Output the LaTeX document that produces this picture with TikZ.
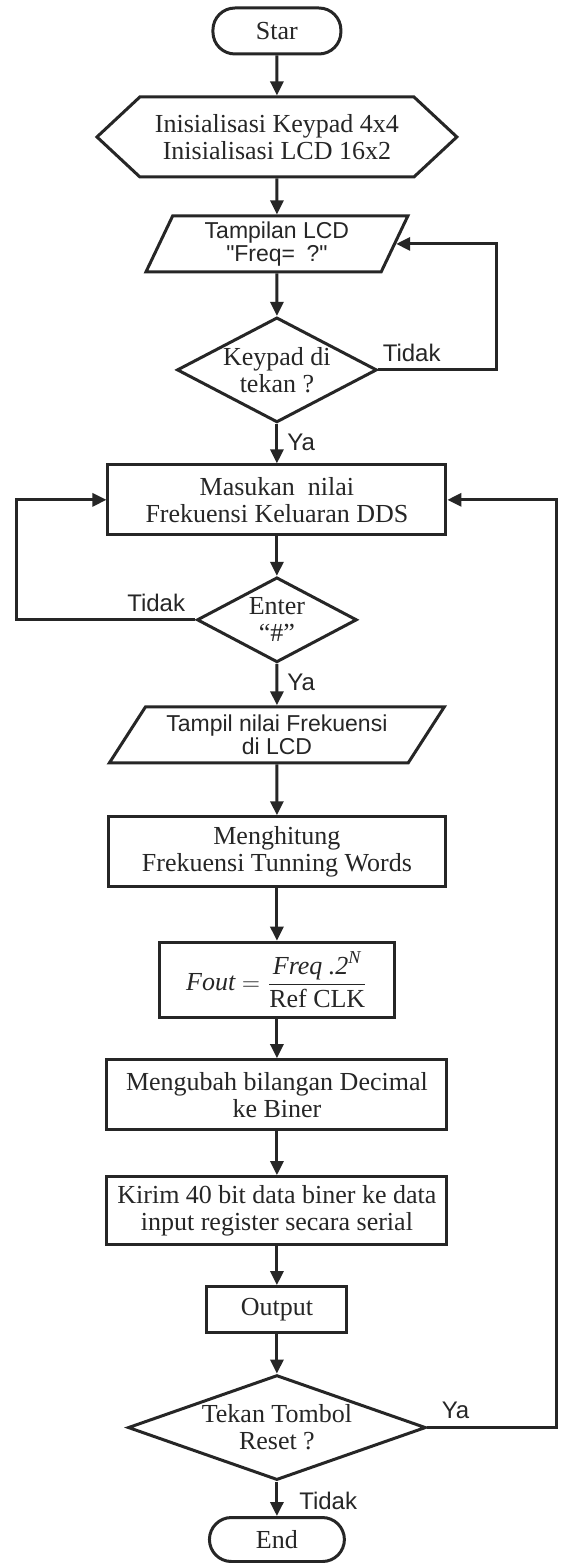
\documentclass[tikz,border=0pt]{standalone}
\usepackage{amsmath}
\usepackage{fontspec}
\setmainfont{Liberation Serif}
\newfontfamily\arialfont{Liberation Sans}
\usetikzlibrary{arrows.meta, positioning, shapes.geometric, shapes.symbols}
\definecolor{ink}{HTML}{262626}

\begin{document}
\begin{tikzpicture}[
  x=0.5pt, y=-0.5pt,
  >={Triangle[length=7pt, width=6.5pt]},
  procbox/.style={
    draw=ink, line width=1.5pt, rectangle, minimum width=#1, minimum height=35pt,
    font=\fontsize{13}{13.5}\selectfont, text=ink, align=center, inner sep=2pt
  },
  procbox/.default=169pt,
  termbox/.style={
    draw=ink, line width=1.5pt, rounded corners=11pt,
    minimum width=#1, minimum height=23pt,
    font=\fontsize{13}{13.5}\selectfont, text=ink, inner sep=2pt
  },
  prepbox/.style={
    draw=ink, line width=1.5pt, signal, signal to=west and east,
    signal pointer angle=86, minimum width=180pt, minimum height=40pt,
    font=\fontsize{13}{13.5}\selectfont, text=ink, align=center, inner sep=2pt
  },
  iobox/.style={
    draw=ink, line width=1.5pt, trapezium, trapezium stretches body,
    minimum height=28pt, font=\arialfont\fontsize{11.5}{11.5}\selectfont,
    text=ink, align=center, inner sep=2pt
  },
  decbox/.style={
    draw=ink, line width=1.5pt, diamond, aspect=#1, inner sep=0pt,
    font=\fontsize{13}{13.5}\selectfont, text=ink, align=center
  },
  arr/.style={->, line width=1.5pt, ink},
  lbl/.style={font=\arialfont\fontsize{12}{12}\selectfont, text=ink, inner sep=1pt},
]

% Background / page size
\fill[white] (0,0) rectangle (561,1563);

% =============================================
% TOP: start, init, LCD prompt, keypad check
% =============================================
\node[termbox=64pt] (start) at (277,31) {Star};

\node[prepbox] (init) at (277,137)
  {Inisialisasi Keypad 4x4\\Inisialisasi LCD 16x2};

\node[iobox, trapezium left angle=63, trapezium right angle=117,
      minimum width=131pt] (lcd) at (277,244)
  {Tampilan LCD\\"Freq=\enspace?"};

\node[decbox=1.9, minimum width=100pt, minimum height=52.5pt]
  (keypad) at (277,370) {Keypad di\\tekan ?};
\node[lbl, above right=3pt and 1pt of keypad.east] {Tidak};
\node[lbl, below right=4pt and 4pt of keypad.south] {Ya};

\draw[arr] (start) -- (init);
\draw[arr] (init) -- (lcd);
\draw[arr] (lcd) -- (keypad);

% Tidak -> back to LCD prompt
\coordinate (rgtA) at (497,0);
\draw[arr] (keypad.east) -- (keypad.east -| rgtA) |- (lcd.right side);

% =============================================
% MIDDLE: frequency input loop
% =============================================
\node[procbox] (input) at (277,500)
  {Masukan\ \ nilai\\Frekuensi Keluaran DDS};

\node[decbox=1.88, minimum width=80pt, minimum height=42.5pt]
  (enter) at (277,620) {Enter\\``\#''};
\node[lbl, above left=3pt and 4pt of enter.west] {Tidak};
\node[lbl, below right=4pt and 4pt of enter.south] {Ya};

\draw[arr] (keypad) -- (input);
\draw[arr] (input) -- (enter);

% Tidak -> back to input
\coordinate (lftA) at (17,0);
\draw[arr] (enter.west) -- (enter.west -| lftA) |- (input.west);

% =============================================
% LOWER: computation and output
% =============================================
\node[iobox, trapezium left angle=53, trapezium right angle=127,
      minimum width=167.5pt] (show) at (277,735)
  {Tampil nilai Frekuensi\\di LCD};

\node[procbox=168.5pt] (calc) at (277,852)
  {Menghitung\\Frekuensi Tunning Words};

\node[procbox=117.5pt, minimum height=37.5pt] (fout) at (277,980)
  {$\textit{Fout} = \dfrac{\textit{Freq .2}^{\textit{N}}}{\text{Ref CLK}}$};

\node[procbox=170pt] (conv) at (277,1095)
  {Mengubah bilangan Decimal\\ke Biner};

\node[procbox=170pt, minimum height=34pt] (send) at (277,1211)
  {Kirim 40 bit data biner ke data\\input register secara serial};

\node[procbox=70pt, minimum height=23pt] (out) at (277,1310) {Output};

\draw[arr] (enter) -- (show);
\draw[arr] (show) -- (calc);
\draw[arr] (calc) -- (fout);
\draw[arr] (fout) -- (conv);
\draw[arr] (conv) -- (send);
\draw[arr] (send) -- (out);

% =============================================
% BOTTOM: reset check and end
% =============================================
\node[decbox=2.84, minimum width=149pt, minimum height=52.5pt]
  (reset) at (277,1428) {Tekan Tombol\\Reset ?};
\node[lbl, above right=3pt and 6pt of reset.east] {Ya};
\node[lbl, below right=4pt and 10pt of reset.south] {Tidak};

\node[termbox=67.5pt, minimum height=22pt] (finish) at (277,1540) {End};

\draw[arr] (out) -- (reset);
\draw[arr] (reset) -- (finish);

% Ya -> back to input (right edge)
\coordinate (rgtB) at (557,0);
\draw[arr] (reset.east) -- (reset.east -| rgtB) |- (input.east);

\end{tikzpicture}
\end{document}
